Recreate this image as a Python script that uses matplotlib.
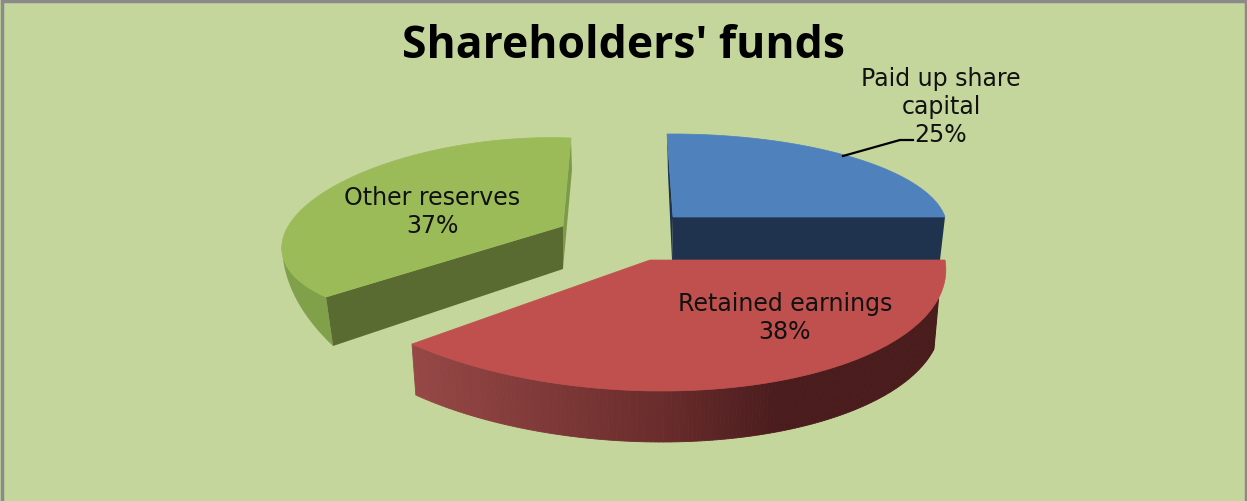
import numpy as np
import matplotlib
matplotlib.use("Agg")
import matplotlib.pyplot as plt
from matplotlib.patches import Polygon

title = "Shareholders' funds"
labels = ["Paid up share\ncapital", "Retained earnings", "Other reserves"]
shares = [25, 38, 37]

W, H = 1247, 502
bg = "#c4d69b"

plt.rcParams["font.family"] = ["DejaVu Sans"]

fig = plt.figure(figsize=(W / 100, H / 100), dpi=100, facecolor=bg)
ax = fig.add_axes([0, 0, 1, 1])
ax.set_xlim(0, W)
ax.set_ylim(H, 0)
ax.axis("off")

# angles clockwise from 12 o'clock, taken from the shares
edges = np.cumsum([0] + shares) / sum(shares) * 2 * np.pi


def unit(t):
    return np.sin(t), np.cos(t)


def homography(src, dst):
    # 4 point fit from the flat pie to the tilted picture of it
    rows = []
    for (u, v), (x, y) in zip(src, dst):
        rows.append([u, v, 1, 0, 0, 0, -u * x, -v * x, -x])
        rows.append([0, 0, 0, u, v, 1, -u * y, -v * y, -y])
    return np.linalg.svd(np.array(rows))[2][-1].reshape(3, 3)


def project(m, t):
    u, v = unit(np.atleast_1d(t))
    q = m @ np.array([u, v, np.ones_like(u)])
    return q[0] / q[2], q[1] / q[2]


blue = homography([(0, 0), unit(0), unit(np.pi / 4), unit(np.pi / 2)],
                  [(673, 218), (667, 135), (848, 157), (945, 218)])
red = homography([unit(np.radians(125)), unit(edges[1]), unit(np.pi), unit(edges[2])],
                 [(905, 335), (945, 261), (660, 392), (412, 345)])
green = homography([unit(np.radians(315)), unit(edges[2]), unit(1.5 * np.pi), unit(edges[3])],
                   [(366, 172), (326, 298), (282, 245), (571, 139)])
blue_apex = (673, 218)
red_apex = (650, 261)
green_apex = (563, 227)


def face(m, a, t0, t1, color, z):
    x, y = project(m, np.linspace(t0, t1, 200))
    pts = np.column_stack([np.r_[a[0], x], np.r_[a[1], y]])
    ax.add_patch(Polygon(pts, closed=True, fc=color, ec=color, lw=0.5, zorder=z))


# blue slice
bx0, by0 = project(blue, edges[0])
bx1, by1 = project(blue, edges[1])
ax.add_patch(Polygon([(bx0[0], by0[0]), blue_apex, (blue_apex[0] - 1, blue_apex[1] + 43), (bx0[0] + 1, by0[0] + 40)],
                     fc="#1f3350", ec="none", zorder=1))
ax.add_patch(Polygon([blue_apex, (bx1[0], by1[0]), (bx1[0] - 5, by1[0] + 43), (blue_apex[0] - 1, blue_apex[1] + 43)],
                     fc="#1f334e", ec="none", zorder=1))
face(blue, blue_apex, edges[0], edges[1], "#4f81bd", 2)

# green slice
gx0, gy0 = project(green, edges[2])
gx1, gy1 = project(green, edges[3])
ts = np.linspace(edges[2], 1.5 * np.pi, 60)
sx, sy = project(green, ts)
gd = np.linspace(49, 0, 60)
gs = np.linspace(7, 0, 60)
ax.add_patch(Polygon(np.column_stack([np.r_[sx, (sx + gs)[::-1]], np.r_[sy, (sy + gd)[::-1]]]),
                     fc="#80a04a", ec="none", zorder=1))
ax.add_patch(Polygon([green_apex, (gx0[0], gy0[0]), (gx0[0] + 7, gy0[0] + 49), (green_apex[0], green_apex[1] + 43)],
                     fc="#5a6b32", ec="none", zorder=3))
ax.add_patch(Polygon([(gx1[0], gy1[0]), (gx1[0] + 1, gy1[0] + 32), (green_apex[0], green_apex[1] + 43), green_apex],
                     fc="#7d9a48", ec="none", zorder=1))
face(green, green_apex, edges[2], edges[3], "#9bbb59", 4)

# red slice with its shaded rim, dark on the right
tr = np.linspace(edges[1] + 0.3, edges[2], 160)
rx, ry = project(red, tr)
rb = rx - 0.016 * (rx - red_apex[0])
c_left = np.array([0x96, 0x48, 0x46]) / 255
c_mid = np.array([0x6a, 0x2c, 0x2c]) / 255
c_right = np.array([0x4a, 0x1c, 0x1d]) / 255
for i in range(len(tr) - 1):
    xm = (rx[i] + rx[i + 1]) / 2
    if xm < 660:
        col = c_mid + (c_left - c_mid) * (660 - xm) / 248
    else:
        col = c_right + (c_mid - c_right) * np.clip((780 - xm) / 120, 0, 1)
    quad = [(rx[i], ry[i]), (rx[i + 1], ry[i + 1]),
            (rb[i + 1], ry[i + 1] + 51), (rb[i], ry[i] + 51)]
    ax.add_patch(Polygon(quad, fc=col, ec=col, lw=0.6, zorder=5))
face(red, red_apex, edges[1], edges[2], "#c0504d", 6)

# frame on the left, top and right
ax.plot([1.5, 1.5, W - 1.5, W - 1.5], [H, 1.5, 1.5, H], color="#8a8a8a", lw=2.5, zorder=7,
        solid_joinstyle="miter")

# leader line for the blue label
ax.plot([843, 900, 913], [157, 141, 141], color="black", lw=1.6, zorder=7)

txt = dict(ha="center", va="center", color="#111111", fontsize=17, zorder=8, linespacing=1.22)
ax.text(624, 47, title, ha="center", va="center", fontsize=32, fontweight="bold", color="black", zorder=8,
        family=["Open Sans", "DejaVu Sans"])
ax.text(941, 107, f"{labels[0]}\n{shares[0]}%", **txt)
ax.text(785, 318, f"{labels[1]}\n{shares[1]}%", **txt)
ax.text(432, 212, f"{labels[2]}\n{shares[2]}%", **txt)

fig.savefig("out.png", dpi=100, facecolor=bg)
